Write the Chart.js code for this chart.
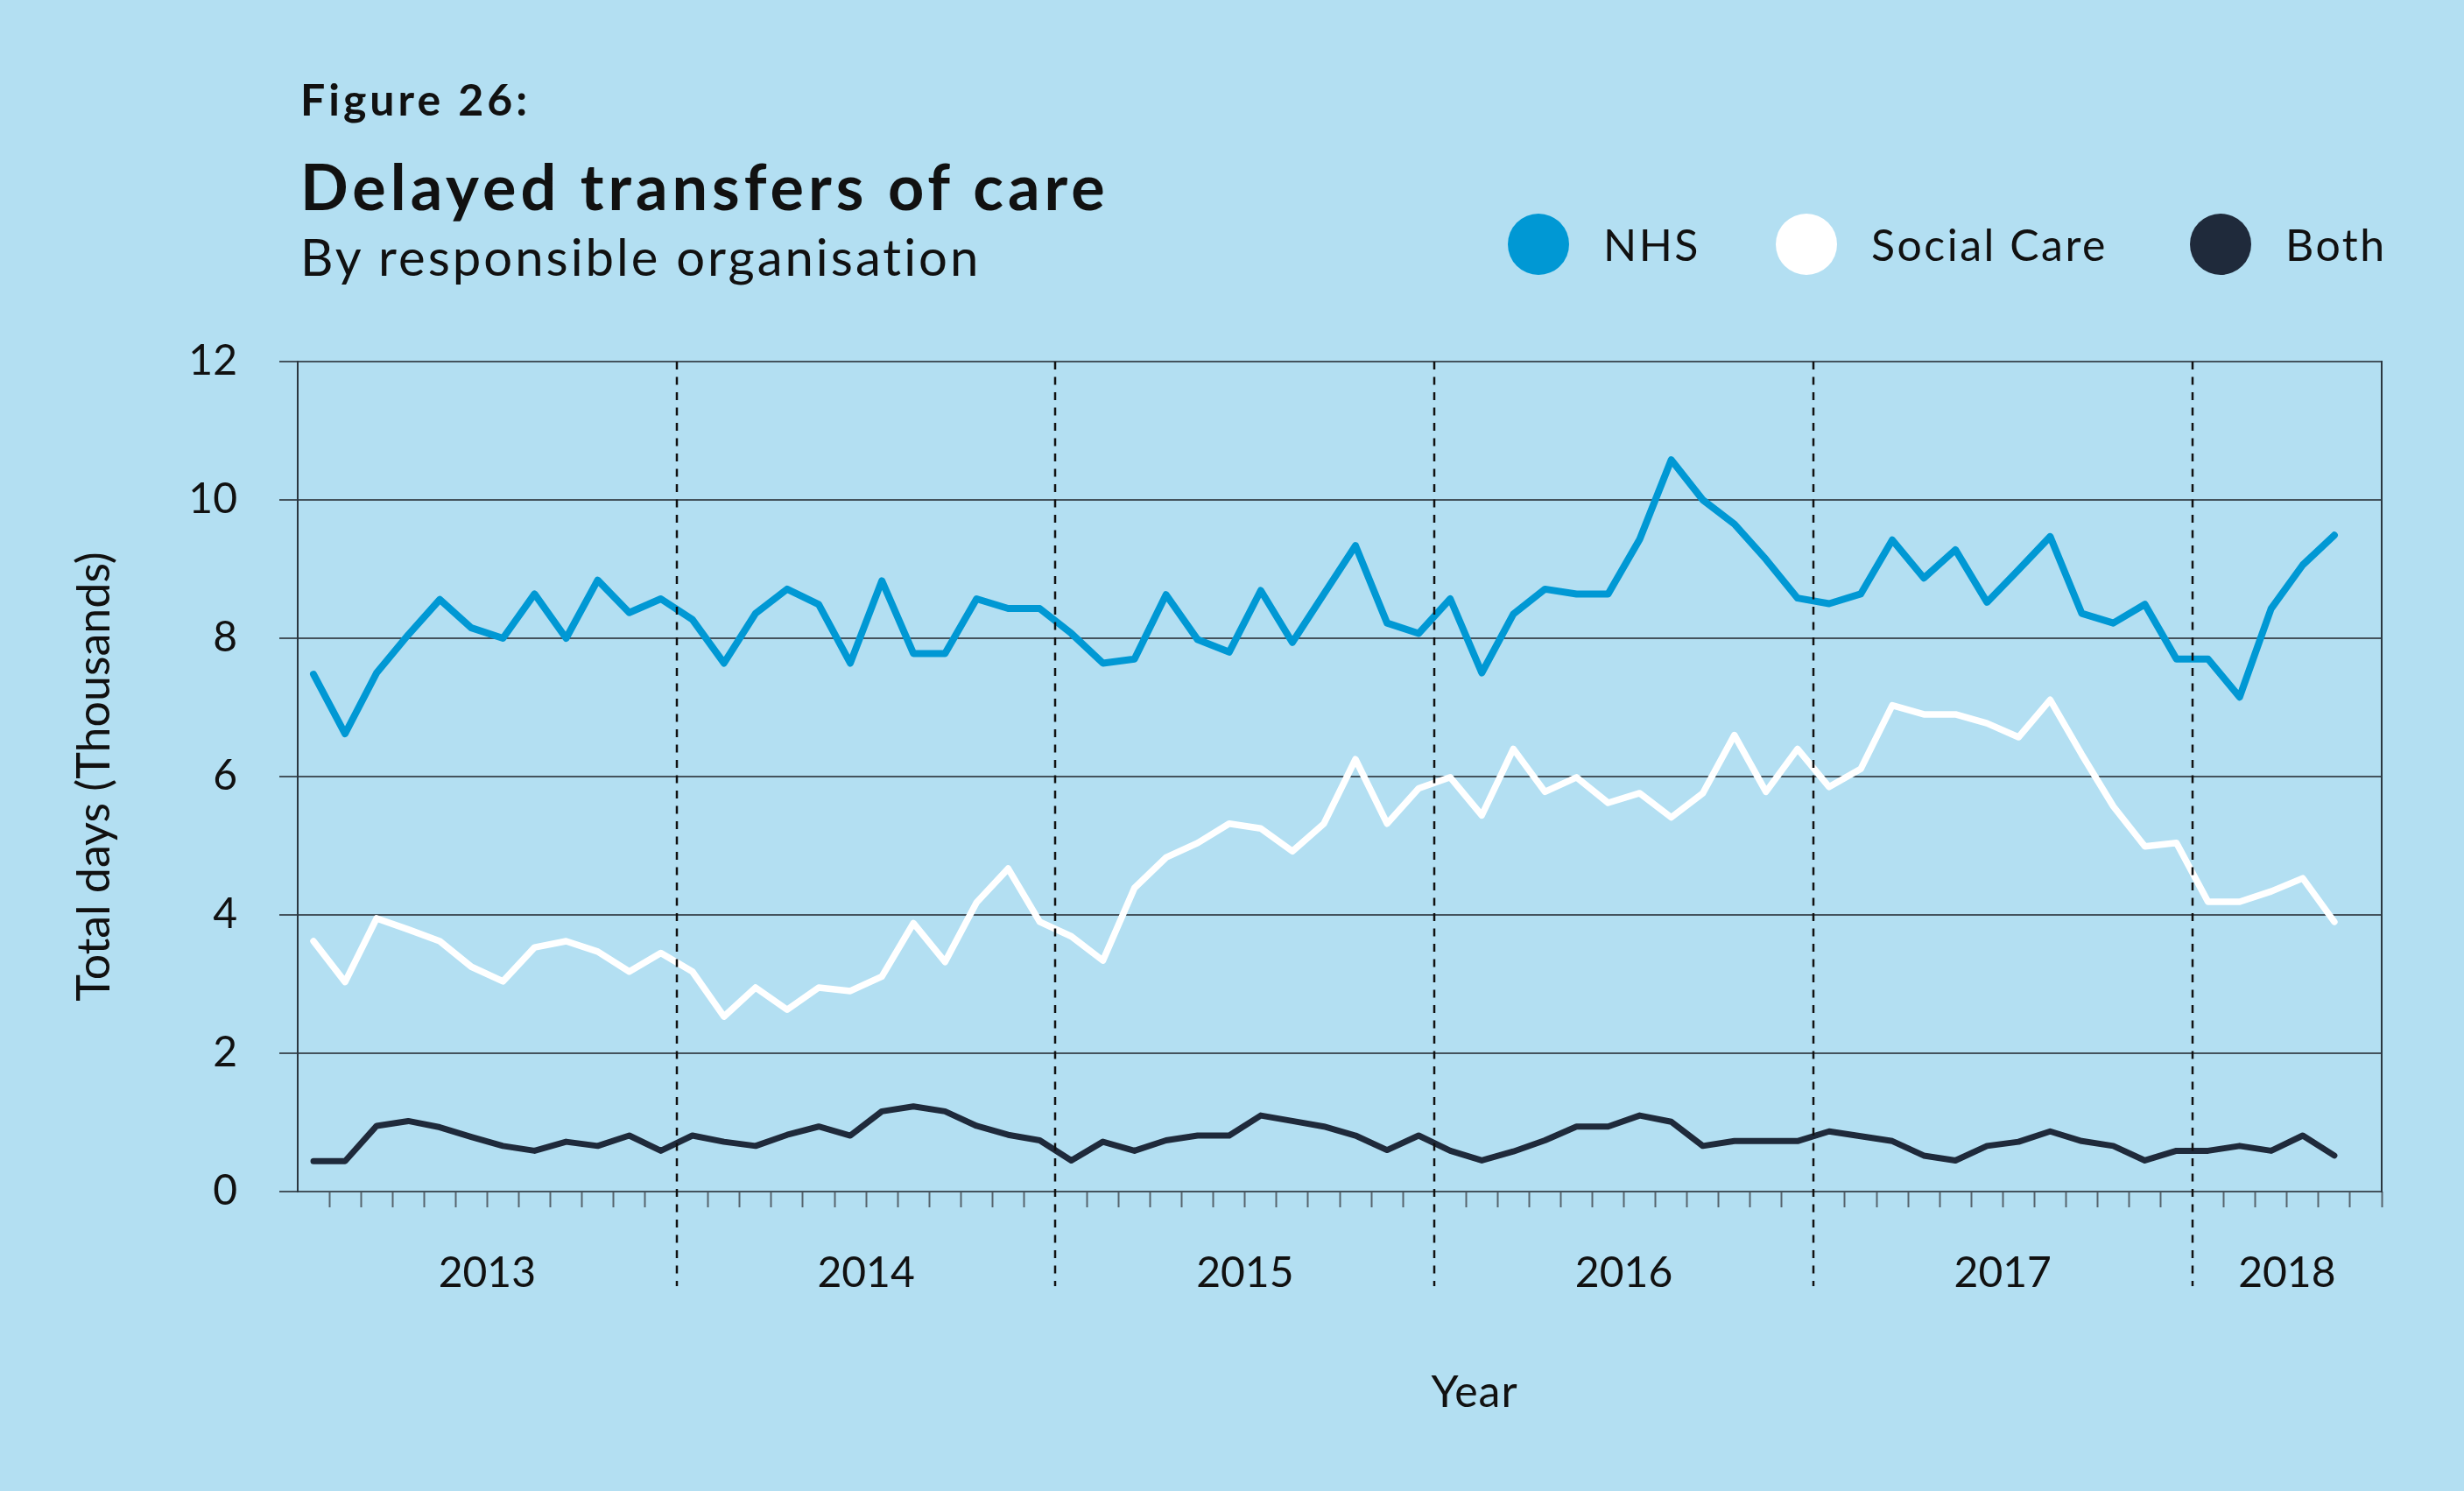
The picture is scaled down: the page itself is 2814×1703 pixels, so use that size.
<!DOCTYPE html>
<html>
<head>
<meta charset="utf-8">
<title>Delayed transfers of care</title>
<script src="https://cdn.jsdelivr.net/npm/chart.js@4.4.1/dist/chart.umd.min.js"></script>
<style>
  html, body { margin: 0; padding: 0; background: #b3dff2; }
  body { width: 2814px; height: 1703px; position: relative; overflow: hidden; font-family: Lato, sans-serif; color: #111; }
  #chart { position: absolute; left: 0; top: 0; width: 2814px; height: 1703px; }
  .txt { position: absolute; white-space: nowrap; line-height: 1; }
  .legend-item { position: absolute; top: 244px; height: 70px; display: flex; align-items: center; font-size: 50px; line-height: 1; white-space: nowrap; letter-spacing: 2.5px; }
  .legend-dot { width: 70px; height: 70px; border-radius: 50%; margin-right: 39px; }
</style>
</head>
<body>
<div class="txt" style="left:343px; top:88px; font-size:50px; font-weight:700; letter-spacing:4px;">Figure 26:</div>
<div class="txt" style="left:343px; top:176px; font-size:72px; font-weight:700; letter-spacing:5px;">Delayed transfers of care</div>
<div class="txt" style="left:343px; top:264px; font-size:58px; letter-spacing:3px;">By responsible organisation</div>
<div id="legend"></div>
<canvas id="chart" width="2814" height="1703"></canvas>
<div class="txt" style="left:1684px; top:1563px; font-size:50px; letter-spacing:1px; transform:translateX(-50%);">Year</div>

<script>
// monthly slots, Jan 2013 - Jun 2018 (last month has no data yet)
const years = [2013, 2014, 2015, 2016, 2017, 2018];
const monthNames = ['Jan', 'Feb', 'Mar', 'Apr', 'May', 'Jun', 'Jul', 'Aug', 'Sep', 'Oct', 'Nov', 'Dec'];
const categories = years.flatMap(y => monthNames.map(m => m + ' ' + y)).slice(0, 66);

const yearLabels = ['2013', '2014', '2015', '2016', '2017', '2018'];
const yearCentres = [6, 18, 30, 42, 54, 63]; // in months from Jan 2013

// total delayed days, thousands
const nhs = [
  7.48, 6.62, 7.50, 8.05, 8.56, 8.15, 8.00, 8.64, 8.00, 8.84, 8.37, 8.57,
  8.27, 7.64, 8.36, 8.71, 8.49, 7.64, 8.83, 7.78, 7.78, 8.57, 8.43, 8.43,
  8.07, 7.64, 7.70, 8.63, 7.98, 7.80, 8.69, 7.94, 8.64, 9.34, 8.22, 8.07,
  8.57, 7.50, 8.35, 8.71, 8.64, 8.64, 9.43, 10.58, 10.00, 9.65, 9.14, 8.58,
  8.50, 8.64, 9.42, 8.87, 9.28, 8.52, 8.99, 9.47, 8.36, 8.22, 8.49, 7.70,
  7.70, 7.15, 8.43, 9.06, 9.49
];
const socialCare = [
  3.62, 3.03, 3.95, 3.79, 3.62, 3.25, 3.04, 3.53, 3.62, 3.47, 3.18, 3.45,
  3.18, 2.53, 2.95, 2.63, 2.95, 2.90, 3.11, 3.88, 3.32, 4.18, 4.67, 3.90,
  3.69, 3.34, 4.39, 4.83, 5.04, 5.32, 5.25, 4.92, 5.32, 6.25, 5.32, 5.83,
  5.99, 5.44, 6.40, 5.78, 5.99, 5.62, 5.76, 5.41, 5.76, 6.60, 5.78, 6.40,
  5.85, 6.11, 7.03, 6.90, 6.90, 6.77, 6.57, 7.11, 6.32, 5.57, 4.99, 5.04,
  4.19, 4.19, 4.34, 4.53, 3.90
];
const both = [
  0.44, 0.44, 0.95, 1.02, 0.93, 0.79, 0.66, 0.59, 0.72, 0.66, 0.81, 0.59,
  0.81, 0.72, 0.66, 0.82, 0.94, 0.81, 1.16, 1.23, 1.16, 0.95, 0.82, 0.74,
  0.45, 0.72, 0.59, 0.74, 0.81, 0.81, 1.10, 1.02, 0.94, 0.81, 0.60, 0.81,
  0.59, 0.45, 0.58, 0.74, 0.94, 0.94, 1.10, 1.01, 0.66, 0.73, 0.73, 0.73,
  0.87, 0.80, 0.73, 0.52, 0.45, 0.66, 0.72, 0.87, 0.73, 0.66, 0.45, 0.59,
  0.59, 0.66, 0.59, 0.81, 0.52
];

Chart.defaults.font.family = 'Lato';
Chart.defaults.color = '#111';

// dashed separators between years, drawn over the lines
const yearLines = {
  id: 'yearLines',
  afterDatasetsDraw(chart) {
    const { ctx, chartArea, scales } = chart;
    ctx.save();
    ctx.strokeStyle = '#111';
    ctx.lineWidth = 2.5;
    ctx.setLineDash([9, 8.5]);
    for (let k = 1; k < years.length; k++) {
      const x = Math.round(scales.year.getPixelForValue(k * 12));
      ctx.beginPath();
      ctx.moveTo(x, chartArea.top);
      ctx.lineTo(x, chartArea.bottom + 108);
      ctx.stroke();
    }
    ctx.restore();
  }
};

const chart = new Chart(document.getElementById('chart'), {
  type: 'line',
  data: {
    labels: categories,
    datasets: [
      { label: 'NHS', data: nhs, borderColor: '#0098d4', backgroundColor: '#0098d4', borderWidth: 8 },
      { label: 'Social Care', data: socialCare, borderColor: '#ffffff', backgroundColor: '#ffffff', borderWidth: 7.5 },
      { label: 'Both', data: both, borderColor: '#1f2a3b', backgroundColor: '#1f2a3b', borderWidth: 7 }
    ]
  },
  options: {
    responsive: false,
    animation: false,
    devicePixelRatio: 1,
    layout: { padding: { top: 413, right: 94, left: 0, bottom: 0 } },
    elements: {
      point: { radius: 0 },
      line: { tension: 0, fill: false, borderCapStyle: 'round', borderJoinStyle: 'round' }
    },
    plugins: { legend: { display: false }, tooltip: { enabled: false } },
    scales: {
      x: {
        type: 'category',
        offset: true,
        grid: {
          offset: true,
          drawOnChartArea: false,
          tickLength: 18,
          tickWidth: 2,
          tickColor: ctx => (ctx.index % 12 === 0 || ctx.index >= categories.length) ? 'rgba(0,0,0,0)' : '#56646e'
        },
        border: { display: false },
        ticks: { display: false, autoSkip: false },
        afterFit: s => { s.height = 18; }
      },
      year: {
        type: 'linear',
        position: 'bottom',
        min: 0,
        max: categories.length,
        grid: { display: false, drawTicks: false },
        border: { display: false },
        afterBuildTicks: s => { s.ticks = yearCentres.map(v => ({ value: v })); },
        ticks: {
          autoSkip: false,
          maxRotation: 0,
          padding: 47,
          font: { size: 48 },
          callback: (v, i) => yearLabels[i]
        },
        afterFit: s => { s.height = 324; }
      },
      y: {
        min: 0,
        max: 12,
        ticks: { stepSize: 2, padding: 48, font: { size: 48 } },
        grid: { color: '#44535d', lineWidth: 2, tickLength: 21 },
        border: { display: true, color: '#2b3740', width: 2 },
        title: {
          display: true,
          text: 'Total days (Thousands)',
          font: { size: 52 },
          padding: { top: 77, bottom: 0 }
        },
        afterFit: s => { s.width = 340; }
      },
      yRight: {
        position: 'right',
        min: 0,
        max: 12,
        ticks: { display: false },
        grid: { display: false, drawTicks: false },
        border: { display: true, color: '#2b3740', width: 2 },
        afterFit: s => { s.width = 0; }
      }
    }
  },
  plugins: [yearLines]
});

// html legend built from the datasets
const legendLeft = [1722, 2028, 2501];
const legendEl = document.getElementById('legend');
chart.data.datasets.forEach((ds, i) => {
  const item = document.createElement('div');
  item.className = 'legend-item';
  item.style.left = legendLeft[i] + 'px';
  const dot = document.createElement('span');
  dot.className = 'legend-dot';
  dot.style.background = ds.borderColor;
  item.appendChild(dot);
  item.appendChild(document.createTextNode(ds.label));
  legendEl.appendChild(item);
});
</script>
</body>
</html>
